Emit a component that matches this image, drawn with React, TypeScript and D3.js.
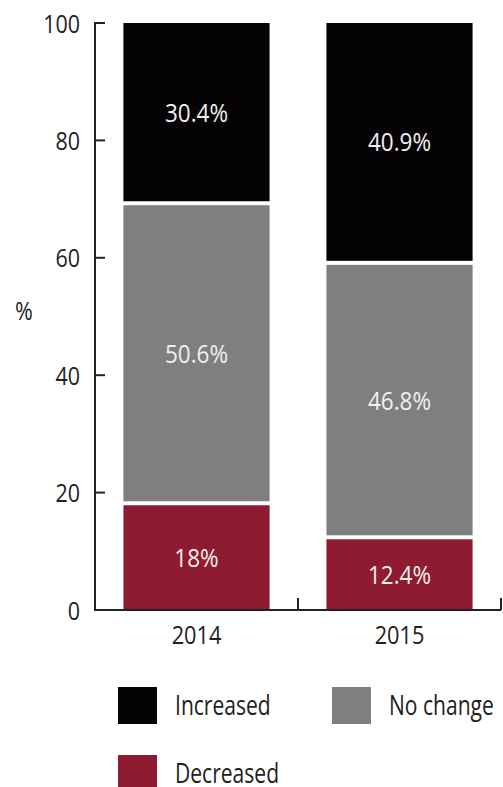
import React from "react";
import * as d3 from "d3";

const years = ["2014", "2015"];
const seriesKeys = ["Decreased", "No change", "Increased"];
const decreased = [18, 12.4];
const noChange = [50.6, 46.8];
const increased = [30.4, 40.9];
const valueLabels = [
  ["18%", "50.6%", "30.4%"],
  ["12.4%", "46.8%", "40.9%"],
];
const yTicks = [0, 20, 40, 60, 80, 100];
const colors = ["#8e1b2f", "#7f7f7f", "#050306"];
const legendItems = [
  { key: "Increased", color: "#050306", col: 0, row: 0 },
  { key: "No change", color: "#7f7f7f", col: 1, row: 0 },
  { key: "Decreased", color: "#8e1b2f", col: 0, row: 1 },
];

const W = 503;
const H = 787;
const FONT = "'Open Sans', 'Noto Sans', sans-serif";

function T({ x, y, sx, size, anchor = "start", fill = "#222", children }: any) {
  return (
    <text
      transform={`translate(${x},${y}) scale(${sx},1)`}
      textAnchor={anchor}
      dominantBaseline="central"
      fill={fill}
      fontFamily={FONT}
      fontSize={size}
    >
      {children}
    </text>
  );
}

export default function App() {
  const x0 = 95;
  const x1 = 501;
  const yTop = 23;
  const yBot = 610;

  const rows = years.map((yr, i) => ({
    year: yr,
    Decreased: decreased[i],
    "No change": noChange[i],
    Increased: increased[i],
  }));
  const stack = d3.stack<any>().keys(seriesKeys).offset(d3.stackOffsetExpand);
  const layers = stack(rows);

  const x = d3.scaleBand().domain(years).range([x0, x1]).paddingInner(0.28).paddingOuter(0.14);
  const y = d3.scaleLinear().domain([0, 1]).range([yBot, yTop]);
  const yAxis = d3.scaleLinear().domain([0, 100]).range([yBot, yTop]);
  const step = x.step();
  const halfGap = 2;

  return (
    <svg width={W} height={H} style={{ position: "absolute", left: 0, top: 0, background: "#fff" }}>
      <rect x={0} y={0} width={W} height={H} fill="#fff" />
      {layers.map((layer, li) =>
        layer.map((d, i) => {
          const isBottom = li === 0;
          const isTop = li === layers.length - 1;
          const top = y(d[1]) + (isTop ? 0 : halfGap);
          const bottom = y(d[0]) - (isBottom ? 0 : halfGap);
          const bx = x(years[i])!;
          return (
            <g key={`${li}-${i}`}>
              <rect x={bx} y={top} width={x.bandwidth()} height={bottom - top} fill={colors[li]} />
              <T x={bx + x.bandwidth() / 2} y={(top + bottom) / 2} sx={0.9} size={25} anchor="middle" fill="#f0f0f0">
                {valueLabels[i][li]}
              </T>
            </g>
          );
        })
      )}
      {/* y axis */}
      <line x1={x0} x2={x0} y1={yTop - 1} y2={yBot + 1} stroke="#222" strokeWidth={2} />
      {yTicks.map((t) => (
        <g key={t}>
          <line x1={x0} x2={x0 + 10} y1={yAxis(t)} y2={yAxis(t)} stroke="#222" strokeWidth={2} />
          <T x={x0 - 15} y={yAxis(t)} sx={0.86} size={25} anchor="end">
            {t}
          </T>
        </g>
      ))}
      <T x={24} y={310} sx={0.86} size={25} anchor="middle">
        %
      </T>
      {/* x axis */}
      <line x1={x0 - 1} x2={x1} y1={yBot} y2={yBot} stroke="#222" strokeWidth={2} />
      {years.map((yr, i) => (
        <line
          key={`t${yr}`}
          x1={x0 + step * (i + 1)}
          x2={x0 + step * (i + 1)}
          y1={yBot}
          y2={yBot - 12}
          stroke="#222"
          strokeWidth={2}
        />
      ))}
      {years.map((yr) => (
        <T key={yr} x={x(yr)! + x.bandwidth() / 2} y={634} sx={0.87} size={25} anchor="middle">
          {yr}
        </T>
      ))}
      {/* legend */}
      {legendItems.map((it) => {
        const lx = 118 + it.col * 214;
        const ly = 687 + it.row * 68;
        return (
          <g key={it.key}>
            <rect x={lx} y={ly} width={39} height={37} fill={it.color} />
            <T x={lx + 57} y={ly + 17} sx={0.78} size={27}>
              {it.key}
            </T>
          </g>
        );
      })}
    </svg>
  );
}
